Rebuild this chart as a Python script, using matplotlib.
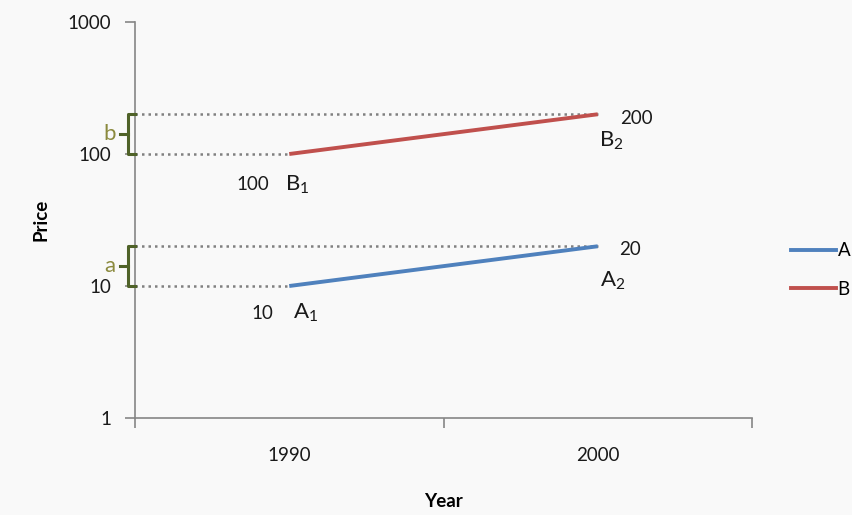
import matplotlib
matplotlib.use("Agg")
import matplotlib.pyplot as plt
from matplotlib.lines import Line2D
import matplotlib.transforms as mtransforms

plt.rcParams['font.family'] = ['Lato', 'DejaVu Sans']
plt.rcParams['mathtext.fontset'] = 'custom'
plt.rcParams['mathtext.rm'] = 'Lato'
plt.rcParams['mathtext.it'] = 'Lato'

years = ["1990", "2000"]
series_names = ["A", "B"]
price_a = [10, 20]
price_b = [100, 200]
colors = {"A": "#4f81bd", "B": "#c0504d"}
y_ticks = [1, 10, 100, 1000]

W, H = 853, 515
fig = plt.figure(figsize=(W / 100, H / 100), dpi=100, facecolor="#f9f9f9")
ax = fig.add_axes([135 / W, 1 - 418 / H, (752 - 135) / W, (418 - 22) / H])
ax.set_facecolor("#f9f9f9")

x = list(range(len(years)))
ax.set_yscale("log")
ax.set_ylim(1, 1000)
ax.set_xlim(-0.5, len(years) - 0.5)

axis_gray = "#868686"
dot_gray = "#808080"
text_col = "#1a1a1a"
fs = 13.5

# dotted guides from the value axis to each point
for vals in (price_a, price_b):
    ax.plot([-0.5, x[0]], [vals[0]] * 2, ls=(0, (1, 1.6)), lw=1.8, color=dot_gray, zorder=2)
    ax.plot([-0.5, x[1]], [vals[1]] * 2, ls=(0, (1, 1.6)), lw=1.8, color=dot_gray, zorder=2)

ax.plot(x, price_a, color=colors["A"], lw=2.8, zorder=3, solid_capstyle="butt")
ax.plot(x, price_b, color=colors["B"], lw=2.8, zorder=3, solid_capstyle="butt")

# spines and ticks
for s in ("top", "right"):
    ax.spines[s].set_visible(False)
for s in ("left", "bottom"):
    ax.spines[s].set_color(axis_gray)
    ax.spines[s].set_linewidth(1.2)

ax.set_yticks(y_ticks)
ax.set_yticklabels([str(v) for v in y_ticks])
ax.yaxis.set_minor_locator(matplotlib.ticker.NullLocator())
ax.tick_params(axis="y", which="major", direction="out", length=7, width=1.2,
               color=axis_gray, pad=10, labelsize=fs, labelcolor=text_col)

ax.set_xticks(x)
ax.set_xticklabels(years)
ax.set_xticks([-0.5, 0.5, 1.5], minor=True)
ax.tick_params(axis="x", which="major", length=0, pad=21, labelsize=fs,
               labelcolor=text_col)
ax.tick_params(axis="x", which="minor", direction="out", length=7, width=1.2,
               color=axis_gray)

ax.set_xlabel("Year", fontsize=fs, fontweight="bold")
ax.set_ylabel("Price", fontsize=fs, fontweight="bold")
ax.xaxis.set_label_coords(0.5, -0.19)
ax.yaxis.set_label_coords(-0.139, 0.5)

# point labels
num_kw = dict(fontsize=fs, color=text_col, ha="center", va="center")
let_kw = dict(fontsize=16, color=text_col, ha="center", va="center")
ax.annotate("100", (x[0], price_b[0]), xytext=(-26, -22), textcoords="offset points", **num_kw)
ax.annotate(r"$\mathrm{B}_{1}$", (x[0], price_b[0]), xytext=(6, -22), textcoords="offset points", **let_kw)
ax.annotate("200", (x[1], price_b[1]), xytext=(28, -3), textcoords="offset points", **num_kw)
ax.annotate(r"$\mathrm{B}_{2}$", (x[1], price_b[1]), xytext=(10, -19), textcoords="offset points", **let_kw)
ax.annotate("10", (x[0], price_a[0]), xytext=(-19, -20), textcoords="offset points", **num_kw)
ax.annotate(r"$\mathrm{A}_{1}$", (x[0], price_a[0]), xytext=(12, -19), textcoords="offset points", **let_kw)
ax.annotate("20", (x[1], price_a[1]), xytext=(23, -2), textcoords="offset points", **num_kw)
ax.annotate(r"$\mathrm{A}_{2}$", (x[1], price_a[1]), xytext=(11, -25), textcoords="offset points", **let_kw)

# braces marking the gap between start and end values
brace_color = "#4f6228"
letter_color = "#8b8a3e"
trans = mtransforms.blended_transform_factory(fig.transFigure, ax.transData)
for vals, letter in ((price_b, "b"), (price_a, "a")):
    lo, hi = vals
    mid = (lo * hi) ** 0.5
    xl, xr, xn = 128 / W, 135 / W, 120 / W
    ax.add_line(Line2D([xr, xl, xl, xr], [hi, hi, lo, lo], transform=trans,
                       color=brace_color, lw=2.2, clip_on=False, zorder=4,
                       solid_joinstyle="round"))
    ax.add_line(Line2D([xl, xn], [mid, mid], transform=trans,
                       color=brace_color, lw=2.2, clip_on=False, zorder=4))
    ax.text(110 / W, mid, letter, transform=trans, fontsize=16, color=letter_color,
            ha="center", va="center")

handles = [Line2D([], [], color=colors[n], lw=2.8) for n in series_names]
fig.legend(handles, series_names, loc="center left",
           bbox_to_anchor=(774 / W, 1 - 270 / H), frameon=False, fontsize=fs,
           handlelength=2.4, handletextpad=0.1, labelspacing=1.15)

fig.savefig("out.png", dpi=100, facecolor=fig.get_facecolor())
